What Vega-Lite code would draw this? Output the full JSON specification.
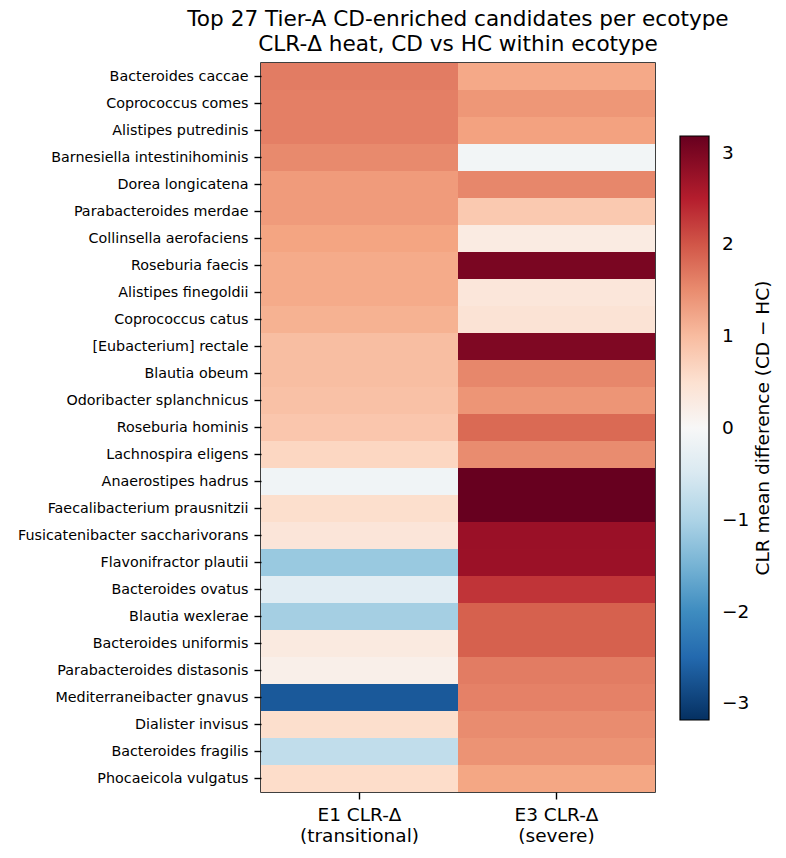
{
  "$schema": "https://vega.github.io/schema/vega-lite/v6.json",
  "width": 394,
  "height": 729,
  "autosize": {"type": "none"},
  "padding": {"left": 261, "top": 63, "right": 131, "bottom": 66},
  "background": "white",
  "config": {
    "font": "DejaVu Sans",
    "view": {"stroke": "black", "strokeWidth": 1.5},
    "axis": {"labelColor": "black", "tickColor": "black", "domain": false, "grid": false, "tickSize": 7, "tickWidth": 1.4, "labelPadding": 6}
  },
  "title": {
    "text": ["Top 27 Tier-A CD-enriched candidates per ecotype", "CLR-Δ heat, CD vs HC within ecotype"],
    "fontSize": 21.6,
    "fontWeight": "normal",
    "color": "black",
    "anchor": "middle",
    "frame": "group",
    "lineHeight": 25,
    "offset": 7
  },
  "data": {
    "values": [
      {"taxon": "Bacteroides caccae", "ecotype": "E1", "clr_delta": 1.65},
      {"taxon": "Bacteroides caccae", "ecotype": "E3", "clr_delta": 1.22},
      {"taxon": "Coprococcus comes", "ecotype": "E1", "clr_delta": 1.62},
      {"taxon": "Coprococcus comes", "ecotype": "E3", "clr_delta": 1.4},
      {"taxon": "Alistipes putredinis", "ecotype": "E1", "clr_delta": 1.62},
      {"taxon": "Alistipes putredinis", "ecotype": "E3", "clr_delta": 1.3},
      {"taxon": "Barnesiella intestinihominis", "ecotype": "E1", "clr_delta": 1.52},
      {"taxon": "Barnesiella intestinihominis", "ecotype": "E3", "clr_delta": -0.08},
      {"taxon": "Dorea longicatena", "ecotype": "E1", "clr_delta": 1.36},
      {"taxon": "Dorea longicatena", "ecotype": "E3", "clr_delta": 1.55},
      {"taxon": "Parabacteroides merdae", "ecotype": "E1", "clr_delta": 1.36},
      {"taxon": "Parabacteroides merdae", "ecotype": "E3", "clr_delta": 0.85},
      {"taxon": "Collinsella aerofaciens", "ecotype": "E1", "clr_delta": 1.27},
      {"taxon": "Collinsella aerofaciens", "ecotype": "E3", "clr_delta": 0.28},
      {"taxon": "Roseburia faecis", "ecotype": "E1", "clr_delta": 1.2},
      {"taxon": "Roseburia faecis", "ecotype": "E3", "clr_delta": 3.02},
      {"taxon": "Alistipes finegoldii", "ecotype": "E1", "clr_delta": 1.2},
      {"taxon": "Alistipes finegoldii", "ecotype": "E3", "clr_delta": 0.38},
      {"taxon": "Coprococcus catus", "ecotype": "E1", "clr_delta": 1.12},
      {"taxon": "Coprococcus catus", "ecotype": "E3", "clr_delta": 0.45},
      {"taxon": "[Eubacterium] rectale", "ecotype": "E1", "clr_delta": 0.98},
      {"taxon": "[Eubacterium] rectale", "ecotype": "E3", "clr_delta": 2.98},
      {"taxon": "Blautia obeum", "ecotype": "E1", "clr_delta": 0.98},
      {"taxon": "Blautia obeum", "ecotype": "E3", "clr_delta": 1.55},
      {"taxon": "Odoribacter splanchnicus", "ecotype": "E1", "clr_delta": 0.94},
      {"taxon": "Odoribacter splanchnicus", "ecotype": "E3", "clr_delta": 1.42},
      {"taxon": "Roseburia hominis", "ecotype": "E1", "clr_delta": 0.88},
      {"taxon": "Roseburia hominis", "ecotype": "E3", "clr_delta": 1.82},
      {"taxon": "Lachnospira eligens", "ecotype": "E1", "clr_delta": 0.68},
      {"taxon": "Lachnospira eligens", "ecotype": "E3", "clr_delta": 1.5},
      {"taxon": "Anaerostipes hadrus", "ecotype": "E1", "clr_delta": -0.12},
      {"taxon": "Anaerostipes hadrus", "ecotype": "E3", "clr_delta": 3.3},
      {"taxon": "Faecalibacterium prausnitzii", "ecotype": "E1", "clr_delta": 0.55},
      {"taxon": "Faecalibacterium prausnitzii", "ecotype": "E3", "clr_delta": 3.28},
      {"taxon": "Fusicatenibacter saccharivorans", "ecotype": "E1", "clr_delta": 0.4},
      {"taxon": "Fusicatenibacter saccharivorans", "ecotype": "E3", "clr_delta": 2.75},
      {"taxon": "Flavonifractor plautii", "ecotype": "E1", "clr_delta": -1.2},
      {"taxon": "Flavonifractor plautii", "ecotype": "E3", "clr_delta": 2.74},
      {"taxon": "Bacteroides ovatus", "ecotype": "E1", "clr_delta": -0.35},
      {"taxon": "Bacteroides ovatus", "ecotype": "E3", "clr_delta": 2.3},
      {"taxon": "Blautia wexlerae", "ecotype": "E1", "clr_delta": -1.08},
      {"taxon": "Blautia wexlerae", "ecotype": "E3", "clr_delta": 1.9},
      {"taxon": "Bacteroides uniformis", "ecotype": "E1", "clr_delta": 0.3},
      {"taxon": "Bacteroides uniformis", "ecotype": "E3", "clr_delta": 1.9},
      {"taxon": "Parabacteroides distasonis", "ecotype": "E1", "clr_delta": 0.18},
      {"taxon": "Parabacteroides distasonis", "ecotype": "E3", "clr_delta": 1.65},
      {"taxon": "Mediterraneibacter gnavus", "ecotype": "E1", "clr_delta": -2.7},
      {"taxon": "Mediterraneibacter gnavus", "ecotype": "E3", "clr_delta": 1.6},
      {"taxon": "Dialister invisus", "ecotype": "E1", "clr_delta": 0.55},
      {"taxon": "Dialister invisus", "ecotype": "E3", "clr_delta": 1.5},
      {"taxon": "Bacteroides fragilis", "ecotype": "E1", "clr_delta": -0.8},
      {"taxon": "Bacteroides fragilis", "ecotype": "E3", "clr_delta": 1.44},
      {"taxon": "Phocaeicola vulgatus", "ecotype": "E1", "clr_delta": 0.6},
      {"taxon": "Phocaeicola vulgatus", "ecotype": "E3", "clr_delta": 1.25}
    ]
  },
  "mark": {"type": "rect"},
  "encoding": {
    "x": {
      "field": "ecotype",
      "type": "nominal",
      "sort": null,
      "scale": {"paddingInner": 0, "paddingOuter": 0},
      "axis": {
        "title": null,
        "labelAngle": 0,
        "labelFontSize": 18.5,
        "labelLineHeight": 21,
        "labelPadding": 6,
        "labelBaseline": "top",
        "labelExpr": "datum.value == 'E1' ? ['E1 CLR-Δ', '(transitional)'] : ['E3 CLR-Δ', '(severe)']"
      }
    },
    "y": {
      "field": "taxon",
      "type": "nominal",
      "sort": null,
      "scale": {"paddingInner": 0, "paddingOuter": 0},
      "axis": {"title": null, "labelFontSize": 14.3, "labelPadding": 6, "labelLimit": 400}
    },
    "color": {
      "field": "clr_delta",
      "type": "quantitative",
      "scale": {
        "domain": [-3.18, -2.544, -1.908, -1.272, -0.636, 0, 0.636, 1.272, 1.908, 2.544, 3.18],
        "range": ["#053061", "#2166ac", "#4393c3", "#92c5de", "#d1e5f0", "#f7f7f7", "#fddbc7", "#f4a582", "#d6604d", "#b2182b", "#67001f"],
        "interpolate": "rgb",
        "clamp": true
      },
      "legend": {
        "type": "gradient",
        "orient": "none",
        "legendX": 419,
        "legendY": 73,
        "padding": 0,
        "direction": "vertical",
        "gradientLength": 584,
        "gradientThickness": 29,
        "gradientStrokeColor": "black",
        "gradientStrokeWidth": 1.2,
        "values": [-3, -2, -1, 0, 1, 2, 3],
        "format": "d",
        "labelFontSize": 18.5,
        "labelColor": "black",
        "labelOffset": 13,
        "labelOverlap": false,
        "title": "CLR mean difference (CD − HC)",
        "titleOrient": "right",
        "titleFontSize": 18.5,
        "titleFontWeight": "normal",
        "titleColor": "black",
        "titlePadding": 6,
        "titleAnchor": "middle",
        "titleLimit": 700,
        "encode": {"title": {"update": {"angle": {"value": -90}, "dy": {"value": 18}}}}
      }
    }
  }
}
